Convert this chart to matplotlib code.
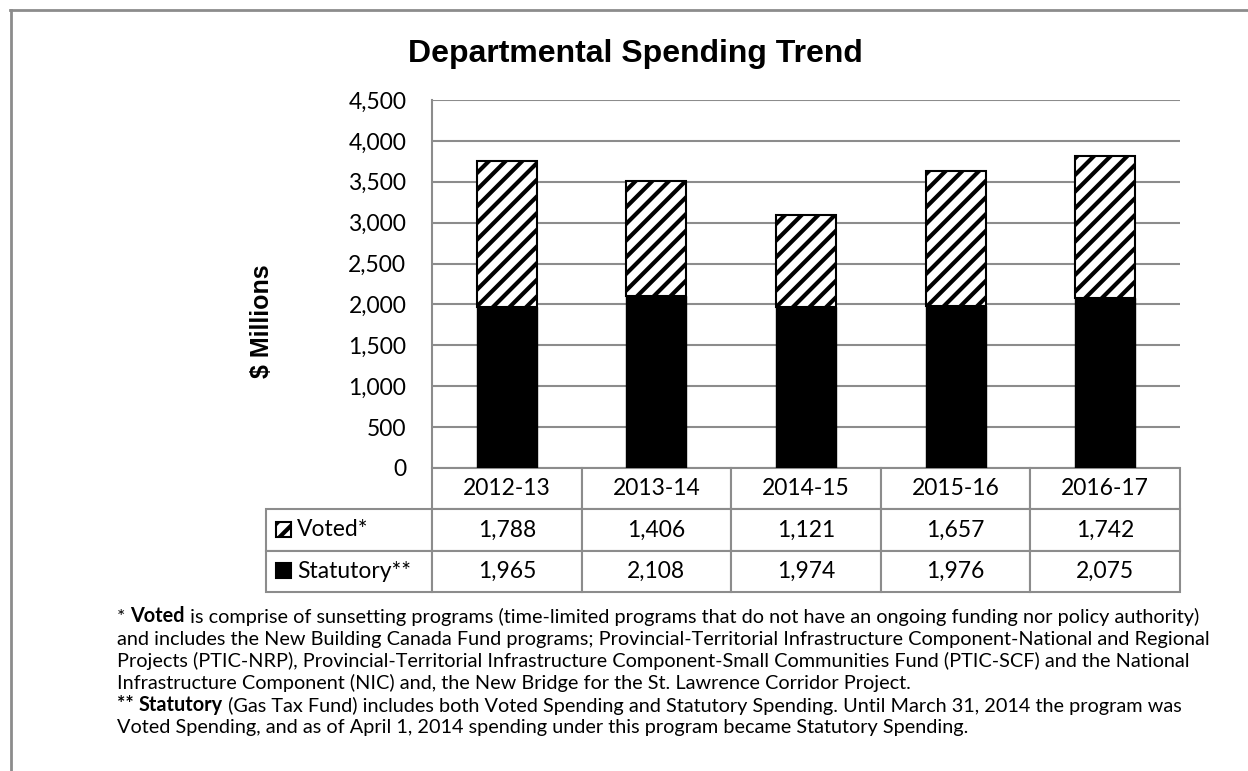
import numpy as np
import matplotlib
matplotlib.use('Agg')
from matplotlib import pyplot as plt
from matplotlib.patches import Rectangle
from matplotlib.lines import Line2D
from matplotlib.text import Annotation

years = ['2012-13', '2013-14', '2014-15', '2015-16', '2016-17']
voted = [1788, 1406, 1121, 1657, 1742]
statutory = [1965, 2108, 1974, 1976, 2075]
yticks = [0, 500, 1000, 1500, 2000, 2500, 3000, 3500, 4000, 4500]
row_labels = ['Voted*', 'Statutory**']

note1_head = [('* ', 'normal'), ('Voted', 'bold'),
              (' is comprise of sunsetting programs (time-limited programs that do not have an ongoing funding nor policy authority)', 'normal')]
note1 = ['and includes the New Building Canada Fund programs; Provincial-Territorial Infrastructure Component-National and Regional',
         'Projects (PTIC-NRP), Provincial-Territorial Infrastructure Component-Small Communities Fund (PTIC-SCF) and the National',
         'Infrastructure Component (NIC) and, the New Bridge for the St. Lawrence Corridor Project.']
note2_head = [('** ', 'bold'), ('Statutory', 'bold'),
              (' (Gas Tax Fund) includes both Voted Spending and Statutory Spending. Until March 31, 2014 the program was', 'normal')]
note2 = ['Voted Spending, and as of April 1, 2014 spending under this program became Statutory Spending.']

W, H = 1248, 771
grid_col = '#8c8c8c'
body_font = 'Lato'

plt.rcParams['hatch.linewidth'] = 3.0
fig = plt.figure(figsize=(W / 100, H / 100), dpi=100)

# outer frame (top and left only)
fig.add_artist(Line2D([10 / W, 1], [1 - 10 / H, 1 - 10 / H], color=grid_col, lw=2))
fig.add_artist(Line2D([11 / W, 11 / W], [0, 1 - 10 / H], color=grid_col, lw=2))

x0, x1, ytop, ybot = 432, 1180, 100, 468
pw, ph = x1 - x0, ybot - ytop
ax = fig.add_axes([x0 / W, 1 - ybot / H, pw / W, ph / H])

x = np.arange(len(years))
ax.bar(x, statutory, width=0.4, color='black', edgecolor='black', lw=1, zorder=3)
ax.bar(x, voted, width=0.4, bottom=statutory, color='white', edgecolor='black',
       hatch='//', lw=1.5, zorder=3)

ax.set_xlim(-0.5, len(years) - 0.5)
ax.set_ylim(0, 4500)
ax.set_yticks(yticks)
ax.set_yticklabels(['{:,}'.format(v) for v in yticks], fontsize=16.5, family=body_font)
ax.tick_params(axis='y', length=0, pad=18.5)
ax.set_xticks([])
ax.yaxis.grid(True, color=grid_col, lw=1.5)
ax.set_axisbelow(True)
for s in ['top', 'right', 'bottom']:
    ax.spines[s].set_visible(False)
ax.spines['left'].set_color(grid_col)
ax.spines['left'].set_linewidth(1.5)

fig.text(262 / W, 1 - 321 / H, '$ Millions', rotation=90, ha='center', va='center',
         fontsize=18, fontweight='bold', family='Liberation Sans')

fig.text(635 / W, 1 - 62 / H, 'Departmental Spending Trend', ha='center', va='baseline',
         fontsize=23, fontweight='bold', family='Liberation Sans')

# data table under the plot
row_h = 41.3 / ph
label_w = (x0 - 266) / pw
cells = [[row_labels[0]] + ['{:,}'.format(v) for v in voted],
         [row_labels[1]] + ['{:,}'.format(v) for v in statutory]]
tbl = ax.table(cellText=cells, colLabels=[''] + years, cellLoc='center',
               bbox=[-label_w, -3 * row_h, 1 + label_w, 3 * row_h])
tbl.auto_set_font_size(False)
for (r, c), cell in tbl.get_celld().items():
    cell.set_edgecolor(grid_col)
    cell.set_linewidth(1.5)
    cell.get_text().set_fontsize(16.5)
    cell.get_text().set_family(body_font)
    cell.set_width(label_w if c == 0 else 1 / len(years))
    if c == 0:
        cell.get_text().set_ha('left')
        cell.PAD = 31 / (x0 - 266)
tbl[0, 0].visible_edges = ''

# legend keys in the row label cells
ks = 15
for i, (fc, hatch) in enumerate([('white', '//'), ('black', None)]):
    ky = 522 + i * 41
    ax.add_patch(Rectangle(((276 - x0) / pw, (ybot - ky - ks) / ph), ks / pw, ks / ph,
                           transform=ax.transAxes, clip_on=False, facecolor=fc,
                           edgecolor='black', hatch=hatch, lw=1.5, zorder=20))

# footnotes
fs = 14.3
lx = 117 / W
line_h = 22
base = 623


def chain(pieces, ypix):
    last = fig.text(lx, 1 - ypix / H, pieces[0][0], fontsize=fs, family=body_font,
                    fontweight=pieces[0][1], va='baseline', ha='left')
    for txt, wt in pieces[1:]:
        last = fig.add_artist(Annotation(txt, xy=(1, 0), xycoords=last, xytext=(0, 0),
                                         textcoords='offset points', va='bottom', ha='left',
                                         fontsize=fs, family=body_font, fontweight=wt))


def plain(s, ypix):
    fig.text(lx, 1 - ypix / H, s, fontsize=fs, family=body_font, va='baseline', ha='left')


chain(note1_head, base)
for i, s in enumerate(note1):
    plain(s, base + line_h * (i + 1))
chain(note2_head, base + line_h * 4)
plain(note2[0], base + line_h * 5)

fig.savefig('out.png', dpi=100)
